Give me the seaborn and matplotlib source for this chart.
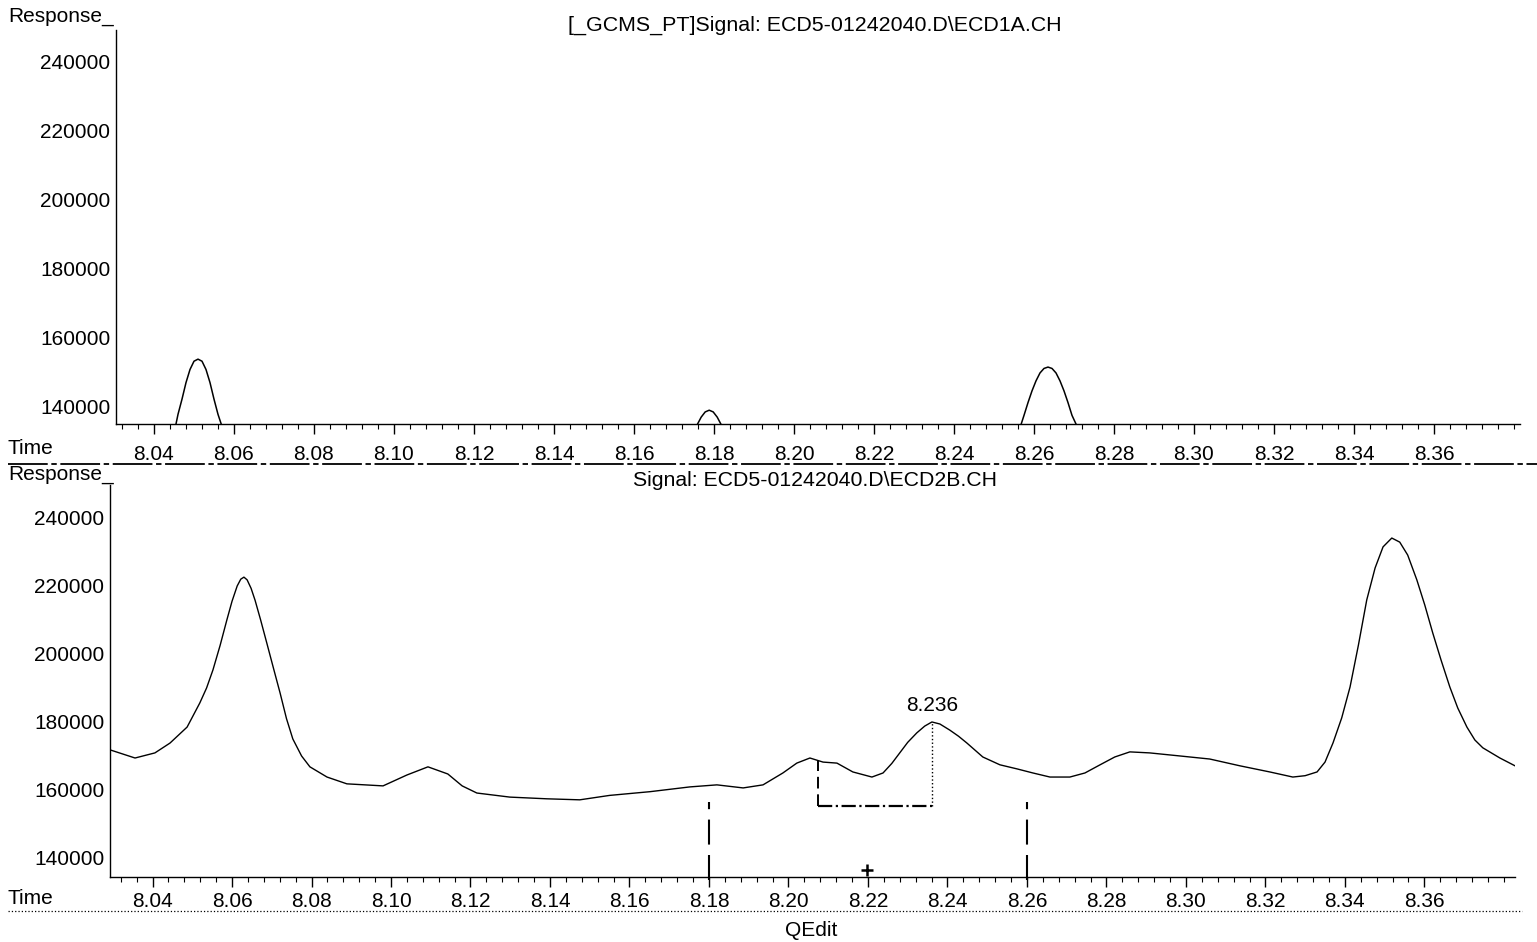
import numpy as np
import pandas as pd
import matplotlib
matplotlib.use('Agg')
import matplotlib.pyplot as plt
import seaborn as sns
from matplotlib.lines import Line2D
from matplotlib.ticker import MultipleLocator

# Channel A (ECD1A) - mostly below the displayed range, only three peak tops show
top_time = [8.0305, 8.0420, 8.0440, 8.0455, 8.0460, 8.0470, 8.0480, 8.0490, 8.0500,
            8.0510, 8.0520, 8.0530, 8.0540, 8.0550, 8.0560, 8.0568, 8.0585, 8.0610,
            8.1700, 8.1740, 8.1758, 8.1768, 8.1778, 8.1788, 8.1798, 8.1808, 8.1818,
            8.1838, 8.1880, 8.2500, 8.2535, 8.2568, 8.2575, 8.2585, 8.2595, 8.2605,
            8.2615, 8.2625, 8.2635, 8.2645, 8.2655, 8.2665, 8.2675, 8.2685, 8.2695,
            8.2705, 8.2740, 8.2800, 8.3815]
top_resp = [118000, 120000, 128000, 134800, 137600, 142000, 146800, 150600, 153000,
            153600, 153000, 150600, 146800, 142000, 137600, 134800, 128000, 120000,
            120000, 128000, 134600, 136800, 138300, 138800, 138300, 136800, 134600,
            128000, 120000, 120000, 128000, 134800, 137300, 141000, 144400, 147300,
            149600, 150900, 151300, 150900, 149600, 147300, 144400, 141000, 137300,
            134800, 126000, 120000, 118000]

# Channel B (ECD2B)
bottom_time = [8.0293, 8.0356, 8.0406, 8.0444, 8.0487, 8.0519, 8.0536, 8.0552, 8.0570,
               8.0587, 8.0600, 8.0613, 8.0622, 8.0630, 8.0638, 8.0648, 8.0658, 8.0672,
               8.0688, 8.0705, 8.0721, 8.0737, 8.0753, 8.0775, 8.0796, 8.0839, 8.0889,
               8.0980, 8.1040, 8.1093, 8.1143, 8.1179, 8.1216, 8.1299, 8.1392, 8.1475,
               8.1550, 8.1652, 8.1752, 8.1820, 8.1886, 8.1936, 8.1986, 8.2021, 8.2054,
               8.2087, 8.2122, 8.2162, 8.2210, 8.2238, 8.2260, 8.2280, 8.2300, 8.2323,
               8.2343, 8.2361, 8.2381, 8.2406, 8.2428, 8.2449, 8.2489, 8.2532, 8.2575,
               8.2615, 8.2658, 8.2708, 8.2746, 8.2784, 8.2821, 8.2859, 8.2909, 8.2985,
               8.3060, 8.3136, 8.3211, 8.3269, 8.3300, 8.3330, 8.3350, 8.3370, 8.3392,
               8.3413, 8.3434, 8.3455, 8.3476, 8.3496, 8.3518, 8.3538, 8.3558, 8.3581,
               8.3601, 8.3621, 8.3642, 8.3664, 8.3684, 8.3707, 8.3727, 8.3747, 8.3790,
               8.3833]
bottom_resp = [171800, 169400, 170900, 173800, 178500, 185600, 190000, 195300, 202500,
               210000, 215500, 220000, 222000, 222600, 221800, 219300, 215800, 210000,
               203000, 195500, 188500, 181000, 175000, 170000, 166800, 163800, 161800,
               161200, 164400, 166800, 164700, 161200, 159100, 157900, 157400, 157100,
               158400, 159500, 160900, 161500, 160600, 161500, 165000, 167900, 169400,
               168200, 167900, 165300, 163800, 165000, 167800, 170900, 174000, 176800,
               178800, 180000, 179400, 177600, 175800, 173800, 169700, 167400, 166200,
               165000, 163800, 163800, 165000, 167400, 169700, 171200, 170900, 170000,
               169100, 167100, 165300, 163800, 164200, 165300, 168200, 173800, 181200,
               190300, 202600, 215900, 225300, 231500, 234100, 232900, 229100, 221800,
               214400, 206200, 198200, 190300, 184100, 178500, 174700, 172400, 169400,
               166800]

# QEdit integration marks
event_times = [8.18, 8.26]
event_top = 156500
base_start = (8.2074, 168400)
base_end = (8.2361, 180000)
base_level = 155300
peak_label = '8.236'
cross_pos = (8.2197, 136500)

x_ticks = [8.04, 8.06, 8.08, 8.10, 8.12, 8.14, 8.16, 8.18, 8.20,
           8.22, 8.24, 8.26, 8.28, 8.30, 8.32, 8.34, 8.36]
y_ticks = [140000, 160000, 180000, 200000, 220000, 240000]

sns.set_theme(style='ticks')
plt.rcParams['font.family'] = ['Liberation Sans', 'DejaVu Sans']
plt.rcParams['font.size'] = 15
plt.rcParams['text.color'] = 'black'
plt.rcParams['xtick.color'] = 'black'
plt.rcParams['ytick.color'] = 'black'
plt.rcParams['xtick.labelcolor'] = 'black'
plt.rcParams['ytick.labelcolor'] = 'black'

W, H = 1537, 942
fig = plt.figure(figsize=(W / 100, H / 100), dpi=100)

def px_box(left, right, top, bottom):
    return [left / W, 1 - bottom / H, (right - left) / W, (bottom - top) / H]

ax1 = fig.add_axes(px_box(116, 1520, 30, 424))
ax2 = fig.add_axes(px_box(110, 1515, 485, 877))

df_top = pd.DataFrame({'time': top_time, 'resp': top_resp})
df_bot = pd.DataFrame({'time': bottom_time, 'resp': bottom_resp})

sns.lineplot(data=df_top, x='time', y='resp', ax=ax1, color='black', lw=1.1,
             estimator=None, sort=False)
sns.lineplot(data=df_bot, x='time', y='resp', ax=ax2, color='black', lw=1.0,
             estimator=None, sort=False)

ax1.set_xlim(8.0305, 8.3815)
ax1.set_ylim(134800, 249000)
ax2.set_xlim(8.0293, 8.3828)
ax2.set_ylim(134400, 249700)

for ax, pad in ((ax1, 8), (ax2, 3.5)):
    sns.despine(ax=ax)
    ax.set_xlabel('')
    ax.set_ylabel('')
    ax.set_yticks(y_ticks)
    ax.set_yticklabels([str(v) for v in y_ticks])
    ax.set_xticks(x_ticks)
    ax.set_xticklabels([f'{v:.2f}' for v in x_ticks])
    ax.xaxis.set_minor_locator(MultipleLocator(0.004))
    ax.tick_params(axis='x', which='major', length=7, width=1, pad=pad,
                   labelsize=15, color='black', direction='out')
    ax.tick_params(axis='x', which='minor', length=3.5, width=0.8,
                   color='black', direction='out')
    ax.tick_params(axis='y', length=0, pad=4, labelsize=15)
    for s in ('left', 'bottom'):
        ax.spines[s].set_color('black')
        ax.spines[s].set_linewidth(1.0)

# integration marks on channel B
ax2.vlines(event_times, ax2.get_ylim()[0] - 1000, event_top, colors='black',
           linestyles=(0, (12, 5)), lw=1.5, clip_on=False)
ax2.plot([base_start[0], base_start[0]], [base_level, base_start[1]],
         color='black', lw=1.4, ls=(0, (6, 3)))
ax2.plot([base_end[0], base_end[0]], [base_level, base_end[1]],
         color='black', lw=1.0, ls=':')
ax2.plot([base_start[0], base_end[0]], [base_level, base_level],
         color='black', lw=1.6, ls='-.')
ax2.plot([cross_pos[0]], [cross_pos[1]], marker='+', color='black',
         markersize=9, mew=1.8)
ax2.annotate(peak_label, xy=base_end, xytext=(0, 12), textcoords='offset points',
             ha='center', va='center', fontsize=15)

# header / footer texts
fig.text(815 / W, 1 - 25 / H, '[_GCMS_PT]Signal: ECD5-01242040.D\\ECD1A.CH',
         ha='center', va='center', fontsize=15.4)
fig.text(815 / W, 1 - 480 / H, 'Signal: ECD5-01242040.D\\ECD2B.CH',
         ha='center', va='center', fontsize=15.3)
fig.text(8 / W, 1 - 16 / H, 'Response_', ha='left', va='center', fontsize=15)
fig.text(8 / W, 1 - 474 / H, 'Response_', ha='left', va='center', fontsize=15)
fig.text(8 / W, 1 - 449 / H, 'Time', ha='left', va='center', fontsize=15)
fig.text(8 / W, 1 - 898 / H, 'Time', ha='left', va='center', fontsize=15)
fig.text(811 / W, 1 - 931 / H, 'QEdit', ha='center', va='center', fontsize=15)

# rules under the time axes
fig.add_artist(Line2D([0.005, 1], [1 - 464 / H, 1 - 464 / H], color='black', lw=1.3,
                      ls=(0, (22, 2, 3, 2))))
fig.add_artist(Line2D([0.005, 0.99], [1 - 911 / H, 1 - 911 / H], color='black', lw=0.9,
                      ls=':'))

fig.savefig('out.png', dpi=100)
